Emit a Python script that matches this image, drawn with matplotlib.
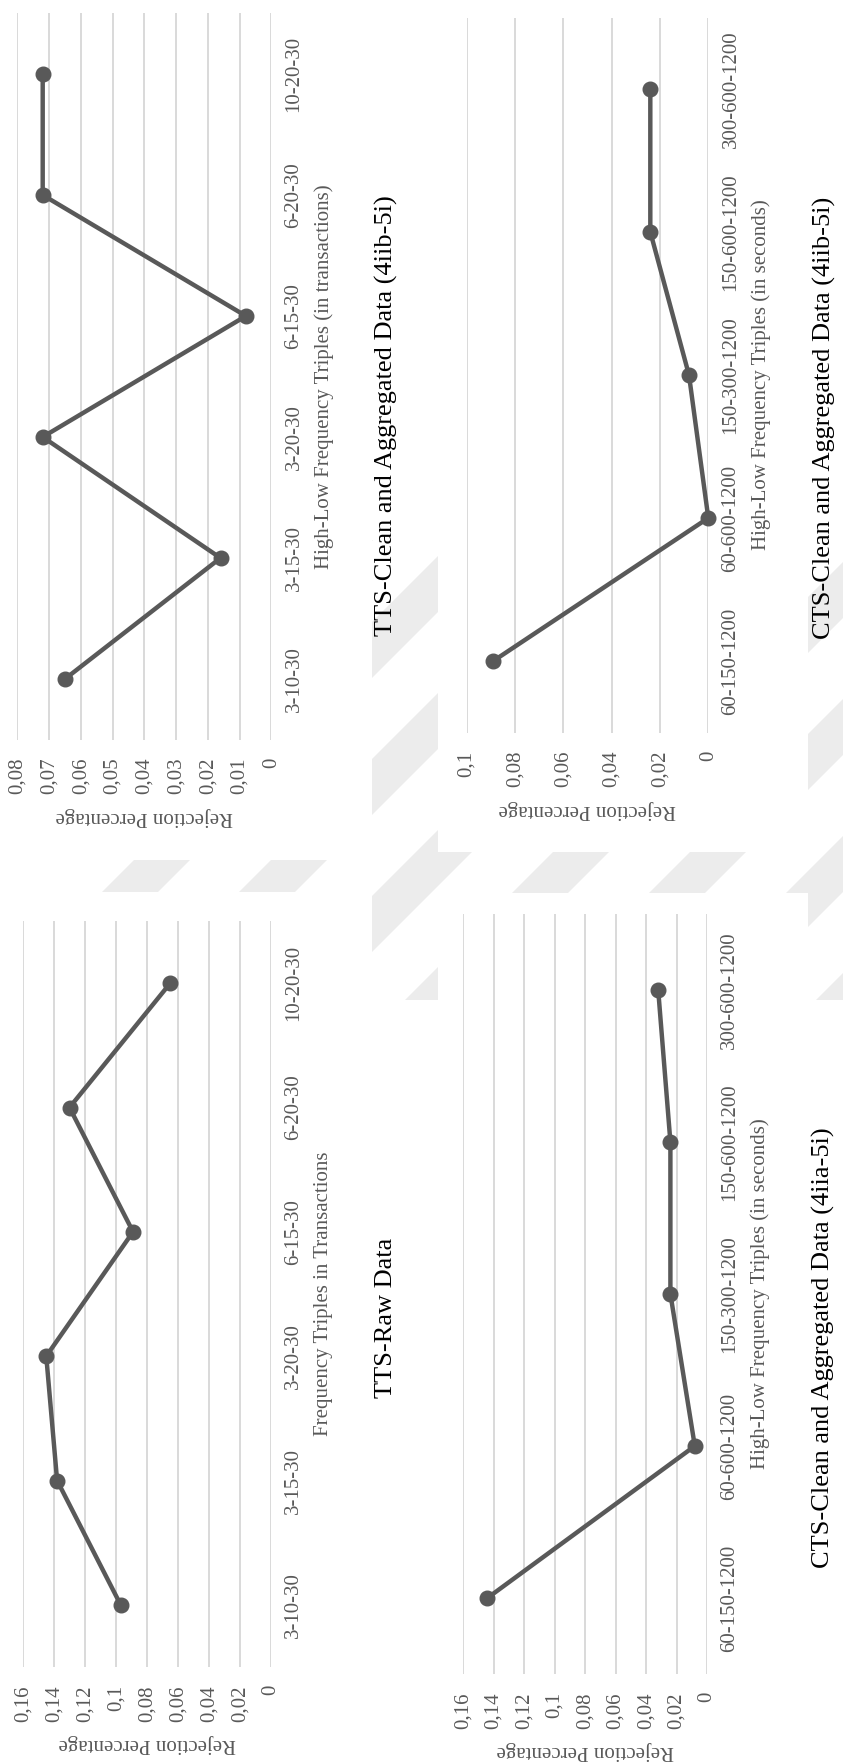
import matplotlib
matplotlib.use("Agg")
import matplotlib.pyplot as plt
from matplotlib.patches import Polygon, Rectangle

W, H = 843, 1764

# data
tts_cats = ["3-10-30", "3-15-30", "3-20-30", "6-15-30", "6-20-30", "10-20-30"]
tts_clean_vals = [0.065, 0.016, 0.072, 0.008, 0.072, 0.072]
tts_raw_vals = [0.097, 0.138, 0.145, 0.089, 0.130, 0.065]

cts_cats = ["60-150-1200", "60-600-1200", "150-300-1200", "150-600-1200", "300-600-1200"]
cts_b_vals = [0.089, 0.0, 0.008, 0.024, 0.024]
cts_a_vals = [0.144, 0.008, 0.024, 0.024, 0.032]

ticks_008 = [0, 0.01, 0.02, 0.03, 0.04, 0.05, 0.06, 0.07, 0.08]
ticks_010 = [0, 0.02, 0.04, 0.06, 0.08, 0.1]
ticks_016 = [0, 0.02, 0.04, 0.06, 0.08, 0.1, 0.12, 0.14, 0.16]

GRAY = "#595959"
GRID = "#d9d9d9"
WMARK = "#ececec"

plt.rcParams["font.family"] = ["Liberation Serif", "DejaVu Serif"]

fig = plt.figure(figsize=(W / 100, H / 100), dpi=100)


def fx(x):
    return x / W


def fy(y):
    return 1 - y / H


def px_rect(left, top, right, bottom):
    return [fx(left), fy(bottom), (right - left) / W, (bottom - top) / H]


def watermark():
    # faint diagonal stripes of the page watermark
    clip = Rectangle((fx(95), fy(1000)), (W - 95) / W, 460 / H,
                     transform=fig.transFigure)
    for k in range(-5, 9):
        a = 994 + 137 * k
        b = a + 56
        pts = [(a - 480, 480), (b - 480, 480), (b - 1060, 1060), (a - 1060, 1060)]
        poly = Polygon([(fx(x), fy(y)) for x, y in pts], closed=True,
                       transform=fig.transFigure, facecolor=WMARK,
                       edgecolor="none", zorder=-3)
        fig.add_artist(poly)
        poly.set_clip_path(clip)

    # white chart areas sitting on top of the watermark
    for l, t, r, b in [(0, 0, 372, 860), (0, 892, 372, H),
                       (438, 0, 808, 852), (438, 893, 808, H)]:
        fig.add_artist(Rectangle((fx(l), fy(b)), (r - l) / W, (b - t) / H,
                                 transform=fig.transFigure, facecolor="white",
                                 edgecolor="none", zorder=-2))


def chart(box, cats, vals, ticks, cat_label, title, title_xy):
    ax = fig.add_axes(px_rect(*box))
    ax.set_facecolor("none")

    ax.plot(vals, range(len(cats)), "-o", color=GRAY, lw=3.2, ms=10.5,
            zorder=3, clip_on=False)

    ax.set_xlim(ticks[-1], 0)
    ax.set_ylim(-0.5, len(cats) - 0.5)

    ax.set_xticks(ticks)
    ax.set_xticklabels([f"{t:g}".replace(".", ",") for t in ticks],
                       rotation=90, va="top", ha="center")
    ax.yaxis.tick_right()
    ax.set_yticks(range(len(cats)))
    ax.set_yticklabels(cats, rotation=90, va="center", ha="left")

    ax.tick_params(length=0, colors=GRAY, labelsize=15)
    ax.tick_params(axis="x", pad=13)
    ax.tick_params(axis="y", pad=9.5)

    ax.grid(axis="x", color=GRID, lw=1.4)
    ax.set_axisbelow(True)
    for s in ax.spines.values():
        s.set_visible(False)

    ax.set_xlabel("Rejection Percentage", rotation=180, color=GRAY,
                  fontsize=15, labelpad=9)
    ax.yaxis.set_label_position("right")
    ax.set_ylabel(cat_label, rotation=90, color=GRAY, fontsize=15, labelpad=8)

    tx, ty = title_xy
    fig.text(fx(tx), fy(ty), title, rotation=90, ha="center", va="center",
             fontsize=19, color="black")
    return ax


watermark()

chart((17.3, 13.5, 271.3, 739.5), tts_cats, tts_clean_vals, ticks_008,
      "High-Low Frequency Triples (in transactions)",
      "TTS-Clean and Aggregated Data (4iib-5i)", (386, 416))

chart((23, 921, 271, 1667), tts_cats, tts_raw_vals, ticks_016,
      "Frequency Triples in Transactions",
      "TTS-Raw Data", (386, 1318))

chart((466.7, 17.5, 708.3, 732.5), cts_cats, cts_b_vals, ticks_010,
      "High-Low Frequency Triples (in seconds)",
      "CTS-Clean and Aggregated Data (4iib-5i)", (824, 418))

chart((463, 914, 707, 1674), cts_cats, cts_a_vals, ticks_016,
      "High-Low Frequency Triples (in seconds)",
      "CTS-Clean and Aggregated Data (4iia-5i)", (823, 1348))

fig.savefig("out.png", dpi=100)
